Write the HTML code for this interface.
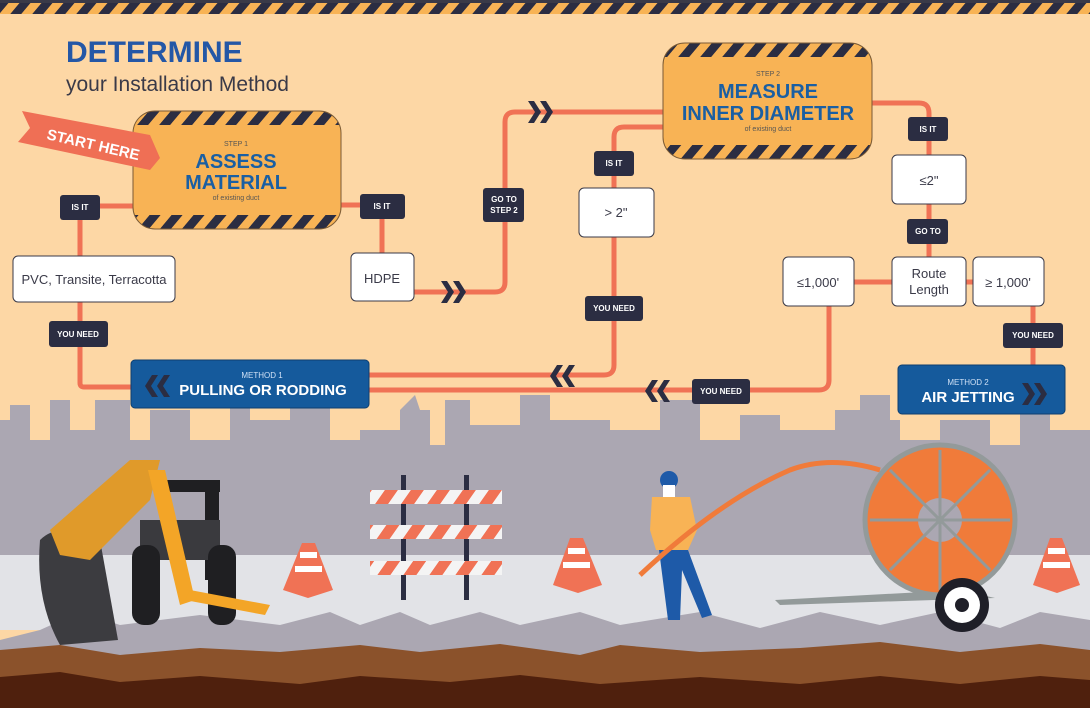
<!DOCTYPE html>
<html><head><meta charset="utf-8"><style>
html,body{margin:0;padding:0;background:#fdd7a5;}
svg{display:block;font-family:"Liberation Sans",sans-serif;}
</style></head><body>
<svg width="1090" height="708" viewBox="0 0 1090 708" xmlns="http://www.w3.org/2000/svg">
<defs>
<pattern id="haz" width="22" height="22" patternUnits="userSpaceOnUse" patternTransform="skewX(-40)">
<rect width="22" height="22" fill="#f8b355"/><rect width="11" height="22" fill="#2b2d42"/>
</pattern>
<pattern id="bar" width="26" height="20" patternUnits="userSpaceOnUse" patternTransform="skewX(-35)">
<rect width="26" height="20" fill="#f4f4f4"/><rect width="13" height="20" fill="#f07255"/>
</pattern>
<clipPath id="c1"><rect x="133" y="111" width="208" height="118" rx="22"/></clipPath>
<clipPath id="c2"><rect x="663" y="43" width="209" height="116" rx="22"/></clipPath>
<polygon id="rc" points="0,-11 6,-11 13,0 6,11 0,11 7,0"/>
<polygon id="lc" points="13,-11 7,-11 0,0 7,11 13,11 6,0"/>
</defs>
<rect width="1090" height="708" fill="#fdd7a5"/>
<rect x="0" y="0" width="1090" height="14" fill="url(#haz)"/>
<rect x="0" y="0" width="1090" height="3" fill="#3a3a48"/>

<g fill="#aba7b2">
<path d="M0 420 L10 420 L10 405 L30 405 L30 440 L50 440 L50 400 L70 400 L70 430 L95 430 L95 400 L130 400 L130 440 L150 440 L150 410 L190 410 L190 440 L230 440 L230 395 L250 395 L250 420 L290 420 L290 400 L330 400 L330 440 L360 440 L360 430 L400 430 L400 410 L415 395 L420 410 L430 410 L430 445 L445 445 L445 400 L470 400 L470 425 L520 425 L520 395 L550 395 L550 420 L610 420 L610 430 L660 430 L660 400 L700 400 L700 440 L740 440 L740 415 L780 415 L780 430 L835 430 L835 410 L860 410 L860 395 L890 395 L890 420 L900 420 L900 440 L940 440 L940 420 L990 420 L990 445 L1020 445 L1020 410 L1050 410 L1050 430 L1090 430 L1090 560 L0 560 Z"/>
</g>
<rect x="0" y="555" width="1090" height="75" fill="#e2e3e7"/>
<path d="M0 640 L40 630 L80 612 L120 625 L200 615 L280 625 L330 612 L360 625 L400 612 L430 625 L480 612 L520 625 L580 612 L620 625 L700 612 L760 628 L820 612 L880 625 L940 612 L1000 628 L1040 612 L1090 620 L1090 660 L0 660 Z" fill="#aba7b2"/>
<path d="M0 650 L60 645 L120 655 L200 648 L280 652 L360 645 L420 652 L500 644 L580 655 L620 645 L700 652 L800 648 L880 642 L960 652 L1040 644 L1090 650 L1090 708 L0 708 Z" fill="#8b522b"/>
<path d="M0 677 L60 672 L120 682 L200 676 L300 684 L360 676 L450 682 L520 675 L600 684 L700 677 L800 684 L880 676 L960 684 L1040 676 L1090 680 L1090 708 L0 708 Z" fill="#4f200d"/>

<g>
<rect x="160" y="480" width="60" height="12" fill="#1f1f22"/>
<rect x="205" y="480" width="14" height="100" fill="#1f1f22"/>
<rect x="140" y="520" width="80" height="40" fill="#3a3a3e"/>
<rect x="132" y="545" width="28" height="80" rx="12" fill="#1f1f22"/>
<rect x="208" y="545" width="28" height="80" rx="12" fill="#1f1f22"/>
<path d="M40 540 Q60 520 100 540 L118 640 L60 645 Q35 600 40 540Z" fill="#3c3c40"/>
<path d="M50 530 L130 460 L160 460 L150 500 L90 560 L60 555Z" fill="#e09a2a"/>
<path d="M148 470 L165 470 L195 600 L180 605Z" fill="#f3a527"/>
<path d="M190 590 L270 605 L265 615 L185 600Z" fill="#f3a527"/>
</g>
<rect x="401" y="475" width="5" height="125" fill="#2b2d42"/>
<rect x="464" y="475" width="5" height="125" fill="#2b2d42"/>
<rect x="370" y="490" width="132" height="14" fill="url(#bar)"/>
<rect x="370" y="525" width="132" height="14" fill="url(#bar)"/>
<rect x="370" y="561" width="132" height="14" fill="url(#bar)"/>
<g fill="#f07255">
<path d="M302 543 L315 543 L333 590 L308 598 L283 590Z"/>
<path d="M570 538 L583 538 L602 585 L578 593 L553 585Z"/>
<path d="M1050 538 L1062 538 L1080 585 L1057 593 L1033 585Z"/>
</g>
<g fill="#fff">
<rect x="300" y="552" width="17" height="6"/><rect x="295" y="566" width="27" height="6"/>
<rect x="568" y="548" width="17" height="6"/><rect x="563" y="562" width="27" height="6"/>
<rect x="1048" y="548" width="17" height="6"/><rect x="1043" y="562" width="27" height="6"/>
</g>
<circle cx="669" cy="480" r="9" fill="#1e5aa8"/>
<rect x="663" y="485" width="12" height="14" fill="#fff"/>
<path d="M652 497 L690 497 L697 530 L688 550 L656 550 L650 530Z" fill="#f8b355"/>
<path d="M659 550 L688 550 L712 615 L702 618 L682 570 L680 620 L668 620Z" fill="#1e5aa8"/>
<path d="M640 575 Q720 500 790 470 Q830 455 880 470" stroke="#f07b3a" stroke-width="5" fill="none"/>
<path d="M775 600 L960 590 L995 598 L780 605Z" fill="#939a9a"/>
<circle cx="940" cy="520" r="75" fill="#f07b3a" stroke="#939a9a" stroke-width="5"/>
<circle cx="940" cy="520" r="22" fill="#aba7b2"/>
<g stroke="#939a9a" stroke-width="3"><line x1="870" y1="520" x2="1010" y2="520"/><line x1="940" y1="450" x2="940" y2="590"/><line x1="890" y1="470" x2="990" y2="570"/><line x1="990" y1="470" x2="890" y2="570"/></g>
<circle cx="962" cy="605" r="27" fill="#1f1f28"/><circle cx="962" cy="605" r="18" fill="#fff"/><circle cx="962" cy="605" r="7" fill="#1f1f28"/>

<g stroke="#f07255" stroke-width="5" fill="none" stroke-linejoin="round">
<path d="M133 206 H80 V383 Q80 387 84 387 H131"/>
<path d="M341 205 H382 V256"/>
<path d="M414 292 H495 Q505 292 505 282 V122 Q505 112 515 112 H665"/>
<path d="M663 127 H624 Q614 127 614 137 V365 Q614 375 604 375 H369"/>
<path d="M872 103 H919 Q929 103 929 113 V258"/>
<path d="M854 282 H892 M966 282 H975"/>
<path d="M829 306 V380 Q829 390 819 390 H369"/>
<path d="M1033 306 V366"/>
</g>
<g fill="#2b2d42">
<use href="#rc" x="441" y="292"/><use href="#rc" x="453" y="292"/>
<use href="#rc" x="528" y="112"/><use href="#rc" x="540" y="112"/>
<use href="#lc" x="550" y="376"/><use href="#lc" x="562" y="376"/>
<use href="#lc" x="645" y="391"/><use href="#lc" x="657" y="391"/>
</g>

<text x="66" y="62" font-size="30" font-weight="bold" fill="#2457a6">DETERMINE</text>
<text x="66" y="91" font-size="21" fill="#3a3a48">your Installation Method</text>

<g clip-path="url(#c1)"><rect x="133" y="111" width="208" height="118" fill="#f8b355"/>
<rect x="133" y="111" width="208" height="14" fill="url(#haz)"/><rect x="133" y="215" width="208" height="14" fill="url(#haz)"/></g>
<rect x="133" y="111" width="208" height="118" rx="22" fill="none" stroke="#7a5a35" stroke-width="1"/>
<text x="236" y="146" font-size="7" fill="#555" text-anchor="middle">STEP 1</text>
<text x="236" y="168" font-size="20" font-weight="bold" fill="#1a5fa3" text-anchor="middle">ASSESS</text>
<text x="236" y="189" font-size="20" font-weight="bold" fill="#1a5fa3" text-anchor="middle">MATERIAL</text>
<text x="236" y="200" font-size="7" fill="#555" text-anchor="middle">of existing duct</text>
<polygon points="22,111 150,135 160,158 150,170 18,142 30,128" fill="#ef6f55"/>
<text x="0" y="0" transform="translate(46,139) rotate(13)" font-size="15" font-weight="bold" fill="#fff">START HERE</text>

<g clip-path="url(#c2)"><rect x="663" y="43" width="209" height="116" fill="#f8b355"/>
<rect x="663" y="43" width="209" height="14" fill="url(#haz)"/><rect x="663" y="145" width="209" height="14" fill="url(#haz)"/></g>
<rect x="663" y="43" width="209" height="116" rx="22" fill="none" stroke="#7a5a35" stroke-width="1"/>
<text x="768" y="76" font-size="7" fill="#555" text-anchor="middle">STEP 2</text>
<text x="768" y="98" font-size="20" font-weight="bold" fill="#1a5fa3" text-anchor="middle">MEASURE</text>
<text x="768" y="120" font-size="20" font-weight="bold" fill="#1a5fa3" text-anchor="middle">INNER DIAMETER</text>
<text x="768" y="131" font-size="7" fill="#555" text-anchor="middle">of existing duct</text>

<g fill="#fff" stroke="#3a3a48" stroke-width="1">
<rect x="13" y="256" width="162" height="46" rx="5"/>
<rect x="351" y="253" width="63" height="48" rx="5"/>
<rect x="579" y="188" width="75" height="49" rx="5"/>
<rect x="892" y="155" width="74" height="49" rx="5"/>
<rect x="892" y="257" width="74" height="49" rx="5"/>
<rect x="783" y="257" width="71" height="49" rx="5"/>
<rect x="973" y="257" width="71" height="49" rx="5"/>
</g>
<g font-size="13" fill="#3a3a48" text-anchor="middle">
<text x="94" y="284">PVC, Transite, Terracotta</text>
<text x="382" y="283">HDPE</text>
<text x="616" y="217">&gt; 2"</text>
<text x="929" y="185">≤2"</text>
<text x="929" y="278">Route</text><text x="929" y="294">Length</text>
<text x="818" y="287">≤1,000'</text>
<text x="1008" y="287">≥ 1,000'</text>
</g>

<g fill="#2b2d42">
<rect x="60" y="195" width="40" height="25" rx="3"/>
<rect x="360" y="194" width="45" height="25" rx="3"/>
<rect x="483" y="188" width="41" height="34" rx="3"/>
<rect x="594" y="151" width="40" height="25" rx="3"/>
<rect x="908" y="117" width="40" height="24" rx="3"/>
<rect x="907" y="219" width="41" height="25" rx="3"/>
<rect x="49" y="321" width="59" height="26" rx="3"/>
<rect x="585" y="296" width="58" height="25" rx="3"/>
<rect x="692" y="379" width="58" height="25" rx="3"/>
<rect x="1003" y="323" width="60" height="25" rx="3"/>
</g>
<g font-size="8" font-weight="bold" fill="#fff" text-anchor="middle">
<text x="80" y="210">IS IT</text>
<text x="382" y="209">IS IT</text>
<text x="504" y="202">GO TO</text><text x="504" y="213">STEP 2</text>
<text x="614" y="166">IS IT</text>
<text x="928" y="132">IS IT</text>
<text x="928" y="234">GO TO</text>
<text x="78" y="337">YOU NEED</text>
<text x="614" y="311">YOU NEED</text>
<text x="721" y="394">YOU NEED</text>
<text x="1033" y="338">YOU NEED</text>
</g>

<rect x="131" y="360" width="238" height="48" rx="4" fill="#155a9c" stroke="#0e3f70"/>
<g fill="#2b2d42"><use href="#lc" x="145" y="386"/><use href="#lc" x="157" y="386"/></g>
<text x="262" y="378" font-size="8" fill="#cfe0f5" text-anchor="middle">METHOD 1</text>
<text x="263" y="395" font-size="15" font-weight="bold" fill="#fff" text-anchor="middle">PULLING OR RODDING</text>
<rect x="898" y="365" width="167" height="49" rx="4" fill="#155a9c" stroke="#0e3f70"/>
<text x="968" y="385" font-size="8" fill="#cfe0f5" text-anchor="middle">METHOD 2</text>
<text x="968" y="402" font-size="15" font-weight="bold" fill="#fff" text-anchor="middle">AIR JETTING</text>
<g fill="#2b2d42"><use href="#rc" x="1022" y="394"/><use href="#rc" x="1034" y="394"/></g>
</svg>
</body></html>
